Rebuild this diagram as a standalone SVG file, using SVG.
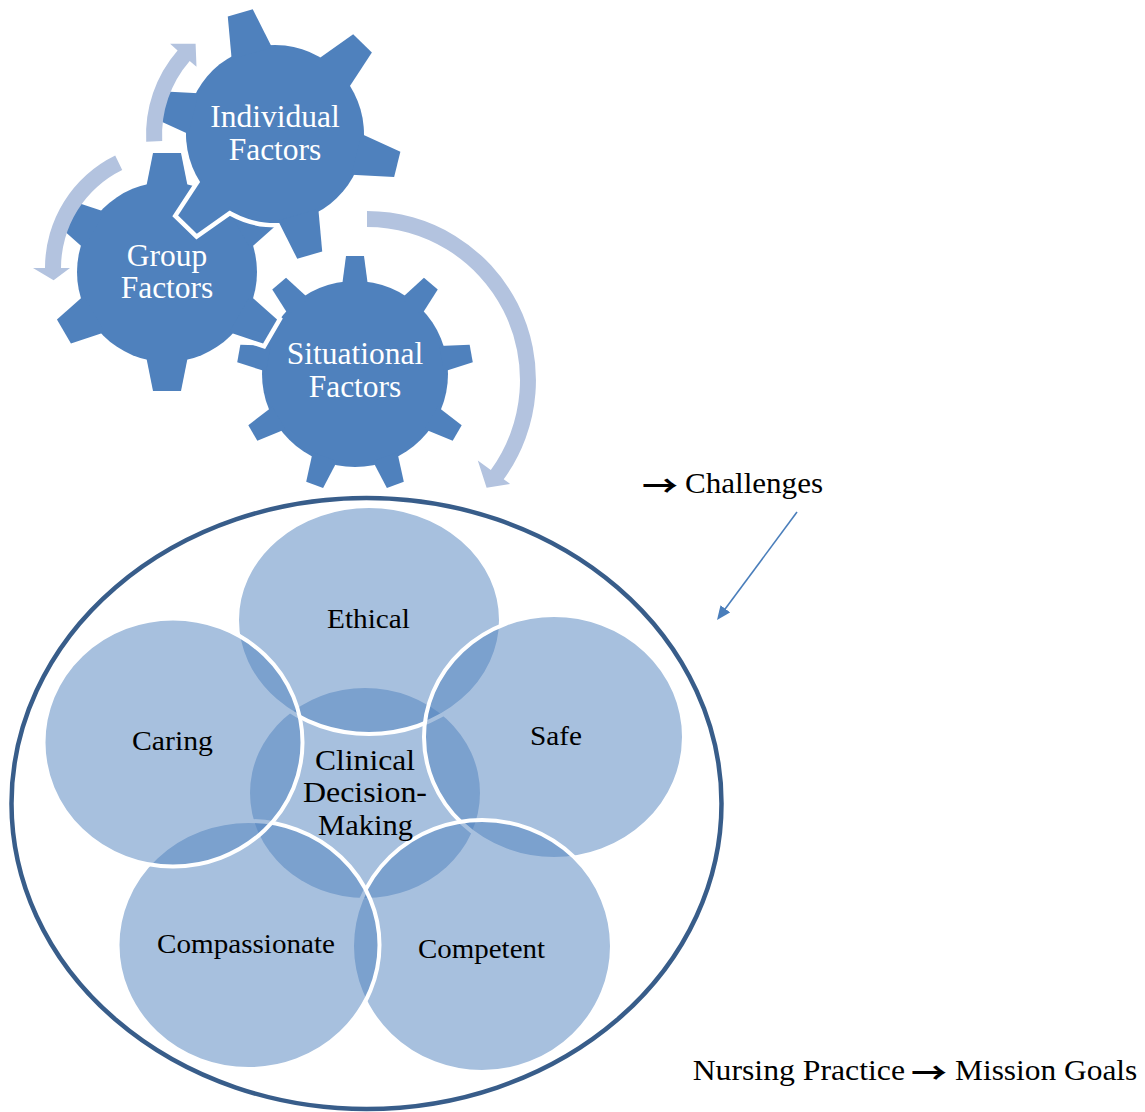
<svg xmlns="http://www.w3.org/2000/svg" width="1145" height="1112" viewBox="0 0 1145 1112">
<style>
  text { font-family: "Liberation Serif", "Times New Roman", serif; }
  .gt { fill: #ffffff; font-size: 31.5px; text-anchor: middle; }
  .vt { fill: #000000; font-size: 27px; text-anchor: middle; }
  .ct { fill: #000000; font-size: 30px; text-anchor: middle; }
  .pt { fill: #000000; font-size: 29px; }
  .arr { fill: #000000; font-size: 29px; font-family: "Noto Sans CJK JP", "DejaVu Sans", sans-serif; font-weight: 700; }
  .outline { fill: #ffffff; stroke: #ffffff; stroke-width: 9; stroke-linejoin: miter; }
  .gfill { fill: #4F81BD; }
  .carrow { fill: #B3C3DF; }
  .venn { fill: #4F81BD; fill-opacity: 0.5; stroke: #ffffff; stroke-width: 4; }
  .frame { fill: none; stroke: #385D8A; stroke-width: 4.5; }
  .link { stroke: #4A7EBB; stroke-width: 1.6; fill: none; }
</style>
<defs>
  <g id="gearInd">
    <circle r="89"/>
    <polygon id="tInd" points="-21,-84 -13,-126 13,-126 21,-84"/>
    <use href="#tInd" transform="rotate(60)"/>
    <use href="#tInd" transform="rotate(120)"/>
    <use href="#tInd" transform="rotate(180)"/>
    <use href="#tInd" transform="rotate(240)"/>
    <use href="#tInd" transform="rotate(300)"/>
  </g>
  <g id="gearGrp">
    <circle r="90"/>
    <polygon id="tGrp" points="-21,-84 -14,-119 14,-119 21,-84"/>
    <use href="#tGrp" transform="rotate(60)"/>
    <use href="#tGrp" transform="rotate(120)"/>
    <use href="#tGrp" transform="rotate(180)"/>
    <use href="#tGrp" transform="rotate(240)"/>
    <use href="#tGrp" transform="rotate(300)"/>
  </g>
  <g id="gearSit">
    <circle r="93"/>
    <polygon id="tSit" points="-13,-88 -9,-118 9,-118 13,-88"/>
    <use href="#tSit" transform="rotate(40)"/>
    <use href="#tSit" transform="rotate(80)"/>
    <use href="#tSit" transform="rotate(120)"/>
    <use href="#tSit" transform="rotate(160)"/>
    <use href="#tSit" transform="rotate(200)"/>
    <use href="#tSit" transform="rotate(240)"/>
    <use href="#tSit" transform="rotate(280)"/>
    <use href="#tSit" transform="rotate(320)"/>
  </g>
  <marker id="ah" viewBox="0 0 14 12" refX="11" refY="6" markerWidth="14" markerHeight="12" markerUnits="userSpaceOnUse" orient="auto">
    <path d="M0,0 L14,6 L0,12 Z" fill="#4A7EBB"/>
  </marker>
</defs>

<g id="gear-situational">
  <use href="#gearSit" transform="translate(355,374)" class="outline"/>
  <use href="#gearSit" transform="translate(355,374)" class="gfill"/>
  <text class="gt" x="355" y="364">Situational</text>
  <text class="gt" x="355" y="397">Factors</text>
</g>
<g id="gear-group">
  <use href="#gearGrp" transform="translate(167,272)" class="outline"/>
  <use href="#gearGrp" transform="translate(167,272)" class="gfill"/>
  <text class="gt" x="167" y="266">Group</text>
  <text class="gt" x="167" y="298">Factors</text>
</g>
<g id="gear-individual">
  <use href="#gearInd" transform="translate(275,134) rotate(-16)" class="outline"/>
  <use href="#gearInd" transform="translate(275,134) rotate(-16)" class="gfill"/>
  <text class="gt" x="275" y="127">Individual</text>
  <text class="gt" x="275" y="160">Factors</text>
</g>

<g id="connectors">
  <path class="carrow" d="M146.2,141.7 A129,129 0 0 1 177.6,50.4 L170.1,43.8 L195.6,43.7 L196.5,66.8 L189.7,60.9 A113,113 0 0 0 162.2,140.9 Z"/>
  <path class="carrow" d="M115.2,155.6 A125,125 0 0 0 45,268 L33,268 L53.6,280.2 L70,268 L61,268 A109,109 0 0 1 122.2,170 Z"/>
  <path class="carrow" d="M367,211 A169,169 0 0 1 503.7,479.3 L510.2,484 L486.6,487.7 L477.8,460.5 L490.8,469.9 A153,153 0 0 0 367,227 Z"/>
  <line class="link" x1="797" y1="512" x2="718.8" y2="617.6" marker-end="url(#ah)"/>
</g>

<g id="frame">
  <ellipse class="frame" cx="366.5" cy="803.5" rx="355" ry="305.5"/>
</g>

<g id="venn">
  <g id="node-clinical">
    <ellipse cx="365" cy="793" rx="115" ry="105" fill="#4F81BD" fill-opacity="0.5"/>
  </g>
  <g id="node-ethical">
    <ellipse class="venn" cx="369" cy="620" rx="132" ry="114"/>
  </g>
  <g id="node-safe">
    <ellipse class="venn" cx="554" cy="737" rx="130" ry="122"/>
  </g>
  <g id="node-competent">
    <ellipse class="venn" cx="482" cy="946" rx="130" ry="126"/>
  </g>
  <g id="node-compassionate">
    <ellipse class="venn" cx="248.5" cy="945" rx="131" ry="124"/>
  </g>
  <g id="node-caring">
    <ellipse class="venn" cx="173" cy="742.5" rx="129.5" ry="124"/>
  </g>
  <g id="venn-labels">
    <text class="vt" x="368.5" y="628" textLength="83" lengthAdjust="spacingAndGlyphs">Ethical</text>
    <text class="vt" x="172.5" y="750" textLength="81" lengthAdjust="spacingAndGlyphs">Caring</text>
    <text class="vt" x="556" y="745" textLength="52" lengthAdjust="spacingAndGlyphs">Safe</text>
    <text class="vt" x="246" y="953" textLength="178" lengthAdjust="spacingAndGlyphs">Compassionate</text>
    <text class="vt" x="481.5" y="958" textLength="127" lengthAdjust="spacingAndGlyphs">Competent</text>
    <text class="ct" x="365" y="770" textLength="100" lengthAdjust="spacingAndGlyphs">Clinical</text>
    <text class="ct" x="365" y="802" textLength="124" lengthAdjust="spacingAndGlyphs">Decision-</text>
    <text class="ct" x="365.5" y="835" textLength="95" lengthAdjust="spacingAndGlyphs">Making</text>
  </g>
</g>

<g id="note-challenges">
  <text class="arr" x="642" y="497" textLength="36" lengthAdjust="spacingAndGlyphs">→</text>
  <text class="pt" x="685" y="493" textLength="138" lengthAdjust="spacingAndGlyphs">Challenges</text>
</g>
<g id="note-mission">
  <text class="pt" x="692.7" y="1080" textLength="212.3" lengthAdjust="spacingAndGlyphs">Nursing Practice</text>
  <text class="arr" x="911" y="1084" textLength="36" lengthAdjust="spacingAndGlyphs">→</text>
  <text class="pt" x="955" y="1080" textLength="182.3" lengthAdjust="spacingAndGlyphs">Mission Goals</text>
</g>
</svg>
